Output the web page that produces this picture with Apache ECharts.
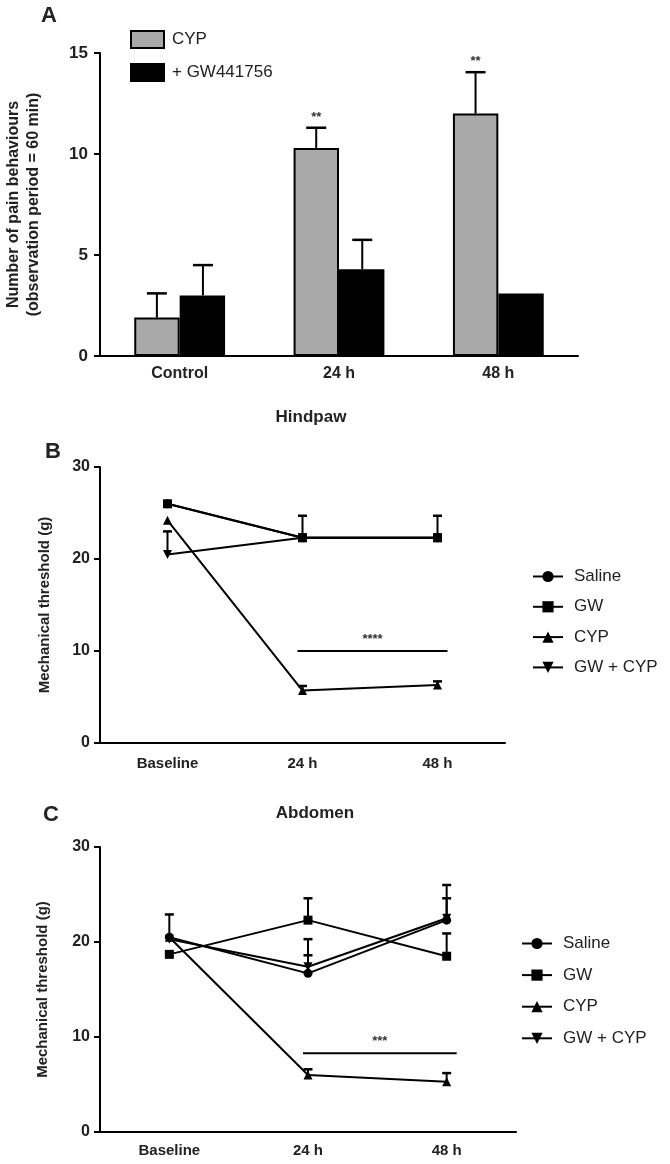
<!DOCTYPE html>
<html>
<head>
<meta charset="utf-8">
<script src="https://cdn.jsdelivr.net/npm/echarts@6/dist/echarts.min.js"></script>
<style>
html,body{margin:0;padding:0;background:#fff;}
#chart{width:670px;height:1164px;}
</style>
</head>
<body>
<div id="chart"></div>
<script>
// ---------- Panel A data ----------
var catsA = ['Control', '24 h', '48 h'];
var cypA = [1.9, 10.3, 12.0];
var cypErrA = [3.1, 11.3, 14.05];
var gwA = [3.0, 4.3, 3.1];
var gwErrA = [4.5, 5.75, null];
var sigA = [null, '**', '**'];
var yTicksA = [0, 5, 10, 15];

// ---------- Panel B (Hindpaw) data ----------
var catsB = ['Baseline', '24 h', '48 h'];
var salineB = [26.0, 22.3, 22.3];
var salineErrB = [null, null, null];
var gwB = [26.0, 22.3, 22.3];
var gwErrB = [null, 24.7, 24.7];
var cypB = [24.2, 5.7, 6.3];
var cypErrB = [null, 6.2, 6.7];
var gwcypB = [20.5, 22.3, 22.3];
var gwcypErrB = [23.0, null, null];
var sigB = {from: 1, to: 2, y: 10, text: '****'};

// ---------- Panel C (Abdomen) data ----------
var catsC = ['Baseline', '24 h', '48 h'];
var salineC = [20.5, 16.7, 22.3];
var salineErrC = [22.9, 18.6, 24.6];
var gwC = [18.7, 22.3, 18.5];
var gwErrC = [null, 24.6, 20.9];
var cypC = [20.5, 6.0, 5.3];
var cypErrC = [null, 6.6, 6.2];
var gwcypC = [20.3, 17.4, 22.5];
var gwcypErrC = [null, 20.3, 26.0];
var sigC = {from: 1, to: 2, y: 8.3, text: '***'};

var FONT = '"Liberation Sans", Arial, sans-serif';
var DOWN_TRI = 'path://M0,0 L10,0 L5,10 Z';

function errData(vals, errs) {
  var out = [];
  for (var i = 0; i < vals.length; i++) {
    if (errs[i] != null) out.push([i, vals[i], errs[i]]);
  }
  return out;
}

function errRender(offsetFrac, capW) {
  return function (params, api) {
    var xi = api.value(0), v = api.value(1), hi = api.value(2);
    var p0 = api.coord([xi, v]);
    var p1 = api.coord([xi, hi]);
    var bw = api.size([1, 0])[0];
    var x = p0[0] + offsetFrac * bw;
    return {
      type: 'group',
      children: [
        {type: 'line', shape: {x1: x, y1: p0[1], x2: x, y2: p1[1]}, style: {stroke: '#000', lineWidth: 2}},
        {type: 'line', shape: {x1: x - capW / 2, y1: p1[1], x2: x + capW / 2, y2: p1[1]}, style: {stroke: '#000', lineWidth: 2.5}}
      ]
    };
  };
}

function sigText(labels) {
  return function (params, api) {
    var xi = api.value(0), hi = api.value(1);
    var p = api.coord([xi, hi]);
    var bw = api.size([1, 0])[0];
    return {
      type: 'text',
      style: {
        x: p[0] - 0.143 * bw, y: p[1] - 4,
        text: labels[xi], fill: '#333', font: 'bold 13px ' + FONT,
        align: 'center', verticalAlign: 'bottom'
      }
    };
  };
}

function sigLineRender(sig) {
  return function (params, api) {
    var a = api.coord([sig.from, sig.y]);
    var b = api.coord([sig.to, sig.y]);
    return {
      type: 'group',
      children: [
        {type: 'line', shape: {x1: a[0] - 5, y1: a[1], x2: b[0] + 10, y2: a[1]}, style: {stroke: '#000', lineWidth: 2}},
        {type: 'text', style: {x: (a[0] - 5 + b[0] + 10) / 2, y: a[1] - 5, text: sig.text, fill: '#333',
          font: 'bold 13px ' + FONT, align: 'center', verticalAlign: 'bottom'}}
      ]
    };
  };
}

var sigDataA = [];
for (var i = 0; i < sigA.length; i++) if (sigA[i]) sigDataA.push([i, cypErrA[i]]);

var axisLineStyle = {color: '#000', width: 2};

function lineSeries(name, data, symbol, gi) {
  return {
    type: 'line', name: name, xAxisIndex: gi, yAxisIndex: gi, data: data,
    symbol: symbol, symbolSize: 9,
    lineStyle: {color: '#000', width: 2}, itemStyle: {color: '#000'},
    animation: false, z: 3
  };
}
function errSeries(vals, errs, gi, cap) {
  return {
    type: 'custom', xAxisIndex: gi, yAxisIndex: gi, data: errData(vals, errs),
    renderItem: errRender(0, cap), animation: false, z: 4, silent: true
  };
}

function stripName(n) { return n.replace(/_.*$/, ''); }

var option = {
  backgroundColor: '#fff',
  animation: false,
  textStyle: {fontFamily: FONT},
  title: [
    {text: 'A', left: 36, top: 0, textStyle: {fontSize: 22, fontWeight: 'bold', color: '#222', fontFamily: FONT}},
    {text: 'Hindpaw', left: 306, top: 404, textAlign: 'center', textStyle: {fontSize: 17, fontWeight: 'bold', color: '#222', fontFamily: FONT}},
    {text: 'B', left: 40, top: 436, textStyle: {fontSize: 22, fontWeight: 'bold', color: '#222', fontFamily: FONT}},
    {text: 'C', left: 38, top: 799, textStyle: {fontSize: 22, fontWeight: 'bold', color: '#222', fontFamily: FONT}},
    {text: 'Abdomen', left: 310, top: 800, textAlign: 'center', textStyle: {fontSize: 17, fontWeight: 'bold', color: '#222', fontFamily: FONT}}
  ],
  legend: [
    {
      data: ['CYP_A', '+ GW441756_A'], orient: 'vertical', left: 125, top: 25,
      icon: 'rect', itemWidth: 33, itemHeight: 17, itemGap: 14,
      formatter: stripName, selectedMode: false,
      textStyle: {fontSize: 17, color: '#222', fontFamily: FONT, padding: [0, 0, 0, 3]}
    },
    {
      data: ['Saline_B', 'GW_B', 'CYP_B', 'GW + CYP_B'], orient: 'vertical', left: 527, top: 563,
      itemWidth: 30, itemHeight: 14, itemGap: 13.3,
      formatter: stripName, selectedMode: false,
      textStyle: {fontSize: 17, color: '#222', fontFamily: FONT, padding: [0, 0, 0, 6]}
    },
    {
      data: ['Saline_C', 'GW_C', 'CYP_C', 'GW + CYP_C'], orient: 'vertical', left: 516, top: 930,
      itemWidth: 30, itemHeight: 14, itemGap: 14.6,
      formatter: stripName, selectedMode: false,
      textStyle: {fontSize: 17, color: '#222', fontFamily: FONT, padding: [0, 0, 0, 6]}
    }
  ],
  grid: [
    {left: 100, top: 53, width: 478, height: 303, outerBoundsMode: 'none', containLabel: false},
    {left: 100, top: 467, width: 405, height: 276, outerBoundsMode: 'none', containLabel: false},
    {left: 100, top: 847, width: 416, height: 285, outerBoundsMode: 'none', containLabel: false}
  ],
  xAxis: [
    {
      gridIndex: 0, type: 'category', data: catsA,
      axisLine: {lineStyle: axisLineStyle}, axisTick: {alignWithLabel: true, length: 6, lineStyle: {width: 2, color: '#000'}},
      axisLabel: {fontSize: 16, fontWeight: 'bold', color: '#222', margin: 10, fontFamily: FONT}
    },
    {
      gridIndex: 1, type: 'category', data: catsB,
      axisLine: {lineStyle: axisLineStyle}, axisTick: {alignWithLabel: true, length: 6, lineStyle: {width: 2, color: '#000'}},
      axisLabel: {fontSize: 15, fontWeight: 'bold', color: '#222', margin: 13, fontFamily: FONT}
    },
    {
      gridIndex: 2, type: 'category', data: catsC,
      axisLine: {lineStyle: axisLineStyle}, axisTick: {alignWithLabel: true, length: 6, lineStyle: {width: 2, color: '#000'}},
      axisLabel: {fontSize: 15, fontWeight: 'bold', color: '#222', margin: 11, fontFamily: FONT}
    }
  ],
  yAxis: [
    {
      gridIndex: 0, type: 'value', min: yTicksA[0], max: yTicksA[yTicksA.length - 1], interval: 5,
      name: 'Number of pain behaviours\n(observation period = 60 min)', nameLocation: 'middle', nameRotate: 90, nameGap: 56,
      nameTextStyle: {fontSize: 16, fontWeight: 'bold', color: '#222', lineHeight: 20, fontFamily: FONT},
      axisLine: {show: true, lineStyle: axisLineStyle}, axisTick: {show: true, length: 6, lineStyle: {width: 2, color: '#000'}},
      splitLine: {show: false},
      axisLabel: {fontSize: 17, fontWeight: 'bold', color: '#222', margin: 12, fontFamily: FONT}
    },
    {
      gridIndex: 1, type: 'value', min: 0, max: 30, interval: 10,
      name: 'Mechanical threshold (g)', nameLocation: 'middle', nameRotate: 90, nameGap: 48,
      nameTextStyle: {fontSize: 15, fontWeight: 'bold', color: '#222', fontFamily: FONT},
      axisLine: {show: true, lineStyle: axisLineStyle}, axisTick: {show: true, length: 6, lineStyle: {width: 2, color: '#000'}},
      splitLine: {show: false},
      axisLabel: {fontSize: 16, fontWeight: 'bold', color: '#222', margin: 10, fontFamily: FONT}
    },
    {
      gridIndex: 2, type: 'value', min: 0, max: 30, interval: 10,
      name: 'Mechanical threshold (g)', nameLocation: 'middle', nameRotate: 90, nameGap: 50,
      nameTextStyle: {fontSize: 15, fontWeight: 'bold', color: '#222', fontFamily: FONT},
      axisLine: {show: true, lineStyle: axisLineStyle}, axisTick: {show: true, length: 6, lineStyle: {width: 2, color: '#000'}},
      splitLine: {show: false},
      axisLabel: {fontSize: 16, fontWeight: 'bold', color: '#222', margin: 10, fontFamily: FONT}
    }
  ],
  series: [
    // Panel A bars
    {
      type: 'bar', name: 'CYP_A', xAxisIndex: 0, yAxisIndex: 0, data: cypA,
      barWidth: '28.5%', barGap: '0%',
      itemStyle: {color: '#a9a9a9', borderColor: '#000', borderWidth: 2}, z: 2
    },
    {
      type: 'bar', name: '+ GW441756_A', xAxisIndex: 0, yAxisIndex: 0, data: gwA,
      barWidth: '28.5%', barGap: '0%',
      itemStyle: {color: '#000', borderColor: '#000', borderWidth: 2}, z: 2
    },
    {
      type: 'custom', xAxisIndex: 0, yAxisIndex: 0, data: errData(cypA, cypErrA),
      renderItem: errRender(-0.143, 20), z: 3, silent: true
    },
    {
      type: 'custom', xAxisIndex: 0, yAxisIndex: 0, data: errData(gwA, gwErrA),
      renderItem: errRender(0.146, 20), z: 3, silent: true
    },
    {
      type: 'custom', xAxisIndex: 0, yAxisIndex: 0, data: sigDataA,
      renderItem: sigText(sigA), z: 3, silent: true
    },

    // Panel B
    lineSeries('Saline_B', salineB, 'circle', 1),
    lineSeries('GW_B', gwB, 'rect', 1),
    lineSeries('CYP_B', cypB, 'triangle', 1),
    lineSeries('GW + CYP_B', gwcypB, DOWN_TRI, 1),
    errSeries(salineB, salineErrB, 1, 9),
    errSeries(gwB, gwErrB, 1, 9),
    errSeries(cypB, cypErrB, 1, 9),
    errSeries(gwcypB, gwcypErrB, 1, 9),
    {type: 'custom', xAxisIndex: 1, yAxisIndex: 1, data: [[sigB.from, sigB.y]], renderItem: sigLineRender(sigB), silent: true},

    // Panel C
    lineSeries('Saline_C', salineC, 'circle', 2),
    lineSeries('GW_C', gwC, 'rect', 2),
    lineSeries('CYP_C', cypC, 'triangle', 2),
    lineSeries('GW + CYP_C', gwcypC, DOWN_TRI, 2),
    errSeries(salineC, salineErrC, 2, 9),
    errSeries(gwC, gwErrC, 2, 9),
    errSeries(cypC, cypErrC, 2, 9),
    errSeries(gwcypC, gwcypErrC, 2, 9),
    {type: 'custom', xAxisIndex: 2, yAxisIndex: 2, data: [[sigC.from, sigC.y]], renderItem: sigLineRender(sigC), silent: true}
  ]
};

var chart = echarts.init(document.getElementById('chart'), null, {renderer: 'canvas'});
chart.setOption(option);
</script>
</body>
</html>
